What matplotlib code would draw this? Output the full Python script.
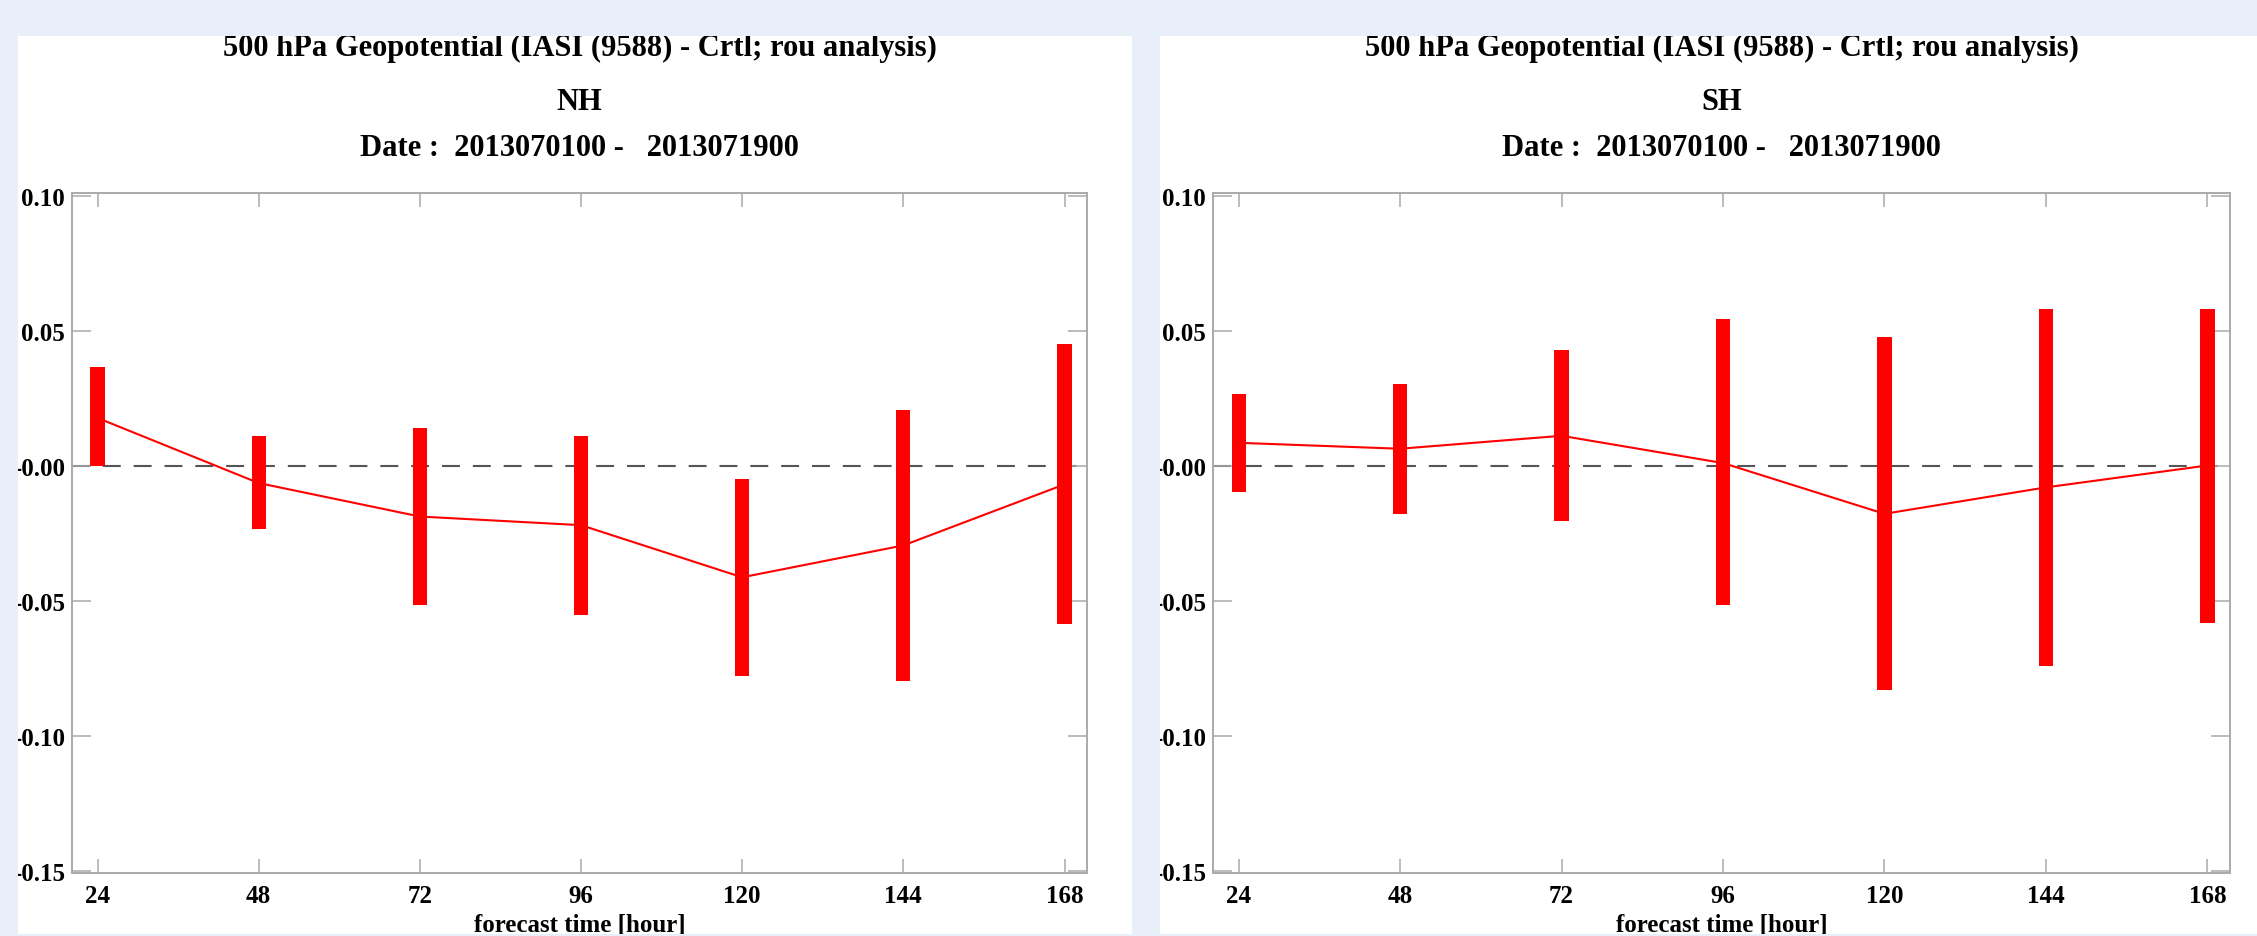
import matplotlib
matplotlib.use("Agg")
import matplotlib.pyplot as plt
from matplotlib.patches import Rectangle
import numpy as np

# forecast steps and the two hemispheres
hours = [24, 48, 72, 96, 120, 144, 168]
ytick_vals = [-0.15, -0.10, -0.05, 0.0, 0.05, 0.10]
ytick_labels = ["-0.15", "-0.10", "-0.05", "-0.00", "0.05", "0.10"]

# NH: mean difference and confidence bar ends
nh_mean = [0.0178, -0.0063, -0.0187, -0.0219, -0.0412, -0.0294, -0.0068]
nh_low = [0.0000, -0.0235, -0.0515, -0.0550, -0.0776, -0.0797, -0.0585]
nh_high = [0.0365, 0.0111, 0.0139, 0.0112, -0.0048, 0.0209, 0.0452]

# SH
sh_mean = [0.0086, 0.0064, 0.0112, 0.0011, -0.0177, -0.0079, 0.0002]
sh_low = [-0.0096, -0.0177, -0.0203, -0.0514, -0.0829, -0.0742, -0.0583]
sh_high = [0.0268, 0.0305, 0.0428, 0.0546, 0.0476, 0.0582, 0.0583]

title = "500 hPa Geopotential (IASI (9588) - Crtl; rou analysis)"
date_line = "Date :  2013070100 -   2013071900"

W, H = 2257, 937
bg = "#e8eff8"
fig = plt.figure(figsize=(W / 100, H / 100), dpi=100, facecolor=bg)

# white panels behind the axes
fig.patches.append(Rectangle((18 / W, 0), (1132 - 18) / W, 1, transform=fig.transFigure,
                             facecolor="white", edgecolor="none", zorder=-2))
fig.patches.append(Rectangle((1160 / W, 0), (W - 1160) / W, 1, transform=fig.transFigure,
                             facecolor="white", edgecolor="none", zorder=-2))

font = "Liberation Serif"
spine_col = "#aaaaaa"


def panel(left_px, right_px, mean, low, high, region):
    ax = fig.add_axes([left_px / W, (H - 874) / H, (right_px - left_px) / W, (874 - 194) / H])
    x = np.array(hours)
    low = np.array(low)
    high = np.array(high)
    ax.axhline(0, color="#555555", lw=1.5, linestyle=(0, (8.6, 6.2)), zorder=1)
    ax.bar(x, high - low, bottom=low, width=2.1, color="red", zorder=2)
    ax.plot(x, mean, color="red", lw=1.5, zorder=3)
    ax.set_xlim(20.2, 171.35)
    ax.set_ylim(-0.1507, 0.1011)
    ax.set_xticks(hours)
    ax.set_xticklabels([str(h) for h in hours])
    ax.set_yticks(ytick_vals)
    ax.set_yticklabels(ytick_labels)
    for s in ax.spines.values():
        s.set_color(spine_col)
        s.set_linewidth(1.4)
    ax.tick_params(axis="both", direction="in", color=spine_col, width=1.1,
                   labelsize=18, top=True, right=True)
    ax.tick_params(axis="x", length=10, pad=8)
    ax.tick_params(axis="y", length=14, pad=5)
    for lab in ax.get_xticklabels() + ax.get_yticklabels():
        lab.set_fontfamily(font)
        lab.set_fontweight("bold")
    ax.set_xlabel("forecast time [hour]", fontsize=18, fontweight="bold",
                  fontfamily=font, labelpad=4)

    cx = (left_px + right_px) / 2 / W
    fig.text(cx, 1 - 48 / H, title, ha="center", va="center", fontsize=22,
             fontweight="bold", fontfamily=font, zorder=1)
    fig.text(cx, 1 - 102 / H, region, ha="center", va="center", fontsize=22,
             fontweight="bold", fontfamily=font, zorder=1)
    fig.text(cx, 1 - 148 / H, date_line, ha="center", va="center", fontsize=22,
             fontweight="bold", fontfamily=font, zorder=1)
    return ax


panel(72, 1087, nh_mean, nh_low, nh_high, "NH")
panel(1213, 2230, sh_mean, sh_low, sh_high, "SH")

# light blue frame strips drawn over the panels (they cut the text at the edges)
for x0, y0, w, h in [(0, H - 37, W, 37), (0, 0, 18, H), (1132, 0, 28, H), (0, 0, W, 2)]:
    fig.patches.append(Rectangle((x0 / W, y0 / H), w / W, h / H, transform=fig.transFigure,
                                 facecolor=bg, edgecolor="none", zorder=5))

fig.savefig("out.png", dpi=100, facecolor=bg)
